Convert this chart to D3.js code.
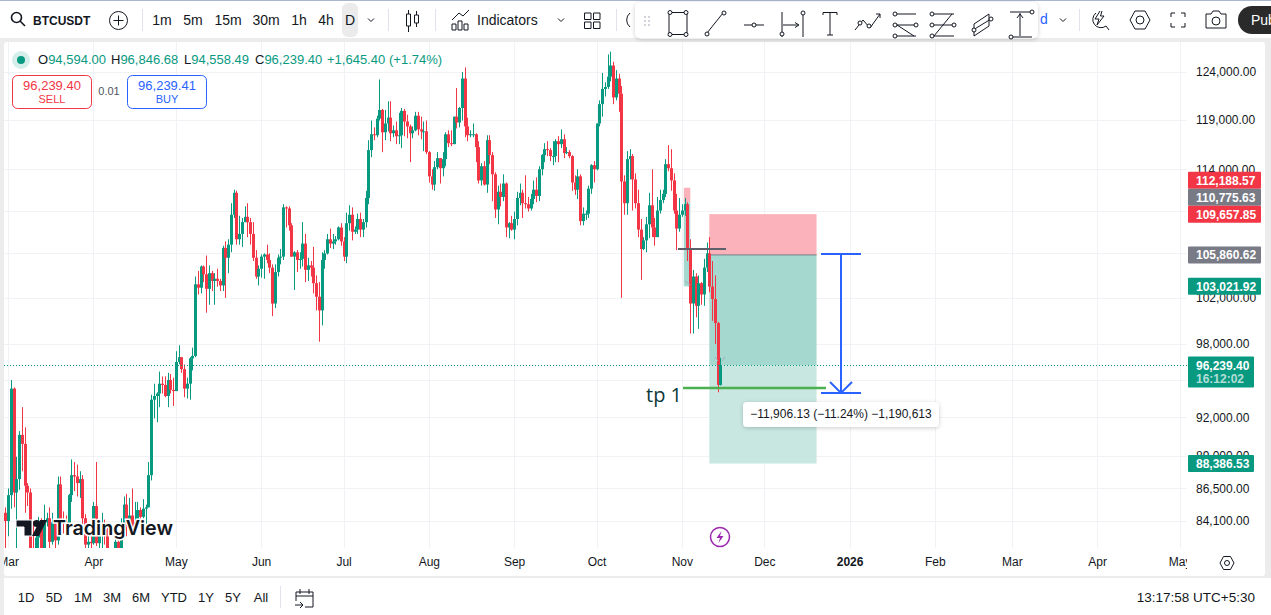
<!DOCTYPE html>
<html>
<head>
<meta charset="utf-8">
<script src="https://cdnjs.cloudflare.com/ajax/libs/d3/7.8.5/d3.min.js"></script>
<style>
    html, body { margin: 0; padding: 0; background: #fff; overflow: hidden; }
    svg { display: block; }
    text { font-family: "Liberation Sans", Arial, sans-serif; }
    .axis .domain, .axis .tick line { display: none; }
    .axis text { fill: #131722; font-size: 12px; font-family: "Liberation Sans", Arial, sans-serif; }
    .icon { fill: none; stroke: #131722; stroke-width: 1; }
</style>
</head>
<body>
<div id="chart"></div>
<script>
// Daily BTCUSDT candles from 28 Feb to 15 Nov 2025, one row per month, in thousands of USD
const firstDay = "2025-02-28";
const opens = [84.7,
    84.1,86.0,94.3,86.2,87.2,90.6,89.9,86.7,86.2,80.7,78.5,82.9,83.6,81.1,84.0,84.3,82.6,84.0,82.7,86.8,84.2,84.0,83.8,86.0,87.5,87.4,86.9,87.2,84.3,82.4,82.6,
    82.5,85.2,82.5,83.1,83.8,83.5,78.4,79.1,76.3,82.6,79.6,83.4,85.3,83.7,84.5,83.6,84.0,84.9,84.4,85.0,85.1,87.5,93.4,93.7,93.9,94.7,94.6,93.7,95.0,94.2,
    94.1,96.5,96.9,95.9,94.3,94.7,96.8,97.0,103.2,102.9,104.8,104.1,102.8,104.2,103.5,103.7,103.5,103.1,106.5,105.6,106.8,109.6,111.7,107.3,107.8,108.9,109.4,108.9,107.8,105.6,103.9,
    104.6,105.7,105.9,105.4,104.7,101.5,104.3,105.6,105.7,110.3,110.2,108.6,105.7,106.1,105.4,105.5,106.9,104.5,104.9,104.7,103.3,102.1,100.9,105.4,106.0,107.3,106.9,107.1,107.3,108.4,
    107.1,105.7,108.8,109.6,108.0,108.2,109.2,108.2,108.9,111.2,115.9,117.5,117.4,119.1,120.0,117.7,118.6,119.2,117.6,117.9,117.3,117.4,119.9,118.8,118.3,117.6,117.9,119.4,118.0,117.8,117.8,
    115.7,113.3,112.5,114.2,115.1,114.1,115.0,117.5,116.6,116.5,119.3,118.7,120.2,123.3,118.3,117.4,117.5,117.5,116.2,112.9,114.3,112.5,116.9,115.4,113.5,110.1,111.8,111.3,112.6,108.4,108.8,
    108.2,109.2,111.2,111.7,110.7,110.6,110.2,111.1,112.0,111.4,114.0,115.4,116.0,115.9,115.3,115.3,116.8,116.5,117.0,115.6,115.7,115.3,112.7,112.0,113.3,109.0,109.7,109.7,112.1,114.4,
    114.0,118.6,120.6,122.2,122.4,123.5,124.7,121.3,123.3,121.7,112.8,110.7,115.0,115.3,113.0,110.7,108.2,106.4,107.2,108.7,110.5,108.4,107.5,110.0,111.0,111.6,114.5,114.1,112.9,110.0,108.3,
    109.6,110.0,110.6,106.5,101.5,103.9,101.3,103.3,102.3,104.7,106.0,103.0,101.9,99.8,94.594];
const highs = [85.1,
    86.5,95.0,94.4,88.9,90.9,92.8,91.2,86.9,86.5,84.1,83.6,84.4,84.3,85.3,84.7,85.1,84.7,84.1,87.4,87.4,84.8,84.5,86.1,88.7,88.5,88.3,87.8,87.5,84.6,83.5,83.9,
    85.5,88.5,83.9,84.7,84.2,83.8,81.2,80.8,83.5,82.7,84.3,85.9,86.1,85.8,86.5,85.5,85.5,85.1,85.7,85.3,88.5,93.8,94.7,94.0,95.7,95.3,95.3,95.6,95.5,95.2,
    97.4,97.9,96.9,96.3,95.2,96.9,97.7,103.9,104.4,104.9,104.9,105.8,104.9,104.4,104.2,104.6,103.7,106.7,107.1,107.3,110.7,112.0,111.9,109.5,109.3,110.4,110.7,109.3,108.9,106.3,104.9,
    105.9,106.0,106.8,106.0,105.0,105.0,105.9,106.4,110.6,110.4,110.4,108.8,106.2,106.3,106.1,108.9,107.8,105.6,105.3,106.6,104.0,103.4,106.1,106.3,107.8,108.3,107.8,107.6,108.5,108.8,
    107.5,109.8,110.5,110.3,108.5,109.7,109.8,109.2,111.9,116.9,118.9,118.2,119.4,123.2,120.1,120.0,120.9,120.9,118.4,118.8,119.7,120.2,120.1,119.5,118.5,118.3,119.8,119.8,119.3,118.8,118.9,
    115.8,114.0,114.8,115.7,115.1,115.7,117.7,117.9,117.9,119.3,122.3,120.3,124.0,124.5,119.2,117.9,118.6,117.6,116.8,114.6,114.8,117.4,117.4,115.7,113.7,112.4,112.6,113.5,112.7,108.9,109.5,
    109.9,111.8,112.6,112.0,113.4,111.3,111.6,112.9,113.2,114.3,115.5,116.6,116.8,116.1,116.8,117.0,117.3,118.0,117.5,116.2,115.9,115.4,113.4,114.0,113.5,110.3,110.0,112.4,114.5,114.8,
    118.6,121.0,123.9,122.9,125.9,126.2,125.1,124.2,123.8,122.5,113.4,115.8,116.0,115.5,113.6,112.0,109.2,107.5,109.4,111.7,114.0,109.3,111.3,112.0,112.0,115.0,116.4,116.0,113.6,111.6,111.2,
    110.6,111.2,110.8,107.3,104.5,104.2,104.0,103.4,105.5,107.0,107.5,105.3,104.0,99.9,96.847];
const lows = [78.2,
    83.0,85.0,85.1,81.5,86.4,87.8,84.7,85.2,80.0,77.5,76.6,80.6,79.9,80.8,83.7,81.9,82.4,81.1,82.4,83.6,83.2,83.6,83.3,85.5,86.3,85.9,85.8,83.6,81.6,81.3,81.3,
    82.4,82.3,81.1,81.7,82.4,77.2,74.5,76.2,74.6,78.3,79.0,82.8,83.0,83.6,83.6,83.1,83.7,84.1,84.3,83.9,85.1,87.1,91.9,91.6,92.8,93.9,93.6,92.8,93.9,92.9,
    94.1,96.3,95.6,93.6,93.5,93.4,95.8,96.9,102.3,102.4,103.4,100.7,101.4,102.6,101.4,103.0,102.6,102.6,102.0,104.2,106.1,109.3,106.8,106.8,106.6,108.9,107.5,106.8,105.3,103.7,103.1,
    103.8,103.7,105.1,104.2,100.4,101.1,103.9,105.0,105.4,108.4,108.1,105.7,102.7,104.3,104.6,104.8,103.4,103.5,103.9,102.4,100.9,98.2,99.6,104.6,105.9,106.5,106.4,106.8,107.2,106.7,
    105.3,105.1,108.1,107.2,107.8,107.8,107.5,107.5,108.4,110.6,115.2,116.9,117.2,118.9,115.7,116.9,117.8,116.8,117.2,116.5,116.5,116.1,117.3,117.1,114.7,117.1,117.8,117.4,117.0,115.8,115.5,
    112.7,112.0,111.9,114.0,112.6,113.3,114.3,116.2,116.3,116.5,118.1,118.2,118.9,117.2,116.8,117.2,117.2,114.7,112.6,112.4,112.4,111.7,114.5,110.9,109.3,108.7,110.4,110.9,107.5,107.4,108.1,
    107.3,108.6,110.5,109.3,110.2,109.9,110.0,110.6,110.8,110.9,113.4,114.7,115.3,114.8,114.4,114.7,114.7,116.1,115.1,115.5,115.1,111.9,111.5,111.1,108.6,108.6,109.1,109.3,111.6,112.7,
    113.9,118.3,119.3,121.4,122.2,123.0,120.6,121.0,119.8,102.0,109.6,109.6,113.0,110.0,110.2,107.5,103.6,106.3,106.1,107.4,107.5,106.7,107.5,109.7,110.7,111.3,113.8,111.9,109.7,106.3,108.0,
    109.4,109.5,105.3,98.9,98.9,100.3,99.3,101.4,101.3,104.3,102.5,100.0,98.0,94.0,94.558];
const closes = [84.1,
    86.0,94.3,86.2,87.2,90.6,89.9,86.7,86.2,80.7,78.5,82.9,83.6,81.1,84.0,84.3,82.6,84.0,82.7,86.8,84.2,84.0,83.8,86.0,87.5,87.4,86.9,87.2,84.3,82.4,82.6,82.5,
    85.2,82.5,83.1,83.8,83.5,78.4,79.1,76.3,82.6,79.6,83.4,85.3,83.7,84.5,83.6,84.0,84.9,84.4,85.0,85.1,87.5,93.4,93.7,93.9,94.7,94.6,93.7,95.0,94.2,94.1,
    96.5,96.9,95.9,94.3,94.7,96.8,97.0,103.2,102.9,104.8,104.1,102.8,104.2,103.5,103.7,103.5,103.1,106.5,105.6,106.8,109.6,111.7,107.3,107.8,108.9,109.4,108.9,107.8,105.6,103.9,104.6,
    105.7,105.9,105.4,104.7,101.5,104.3,105.6,105.7,110.3,110.2,108.6,105.7,106.1,105.4,105.5,106.9,104.5,104.9,104.7,103.3,102.1,100.9,105.4,106.0,107.3,106.9,107.1,107.3,108.4,107.1,
    105.7,108.8,109.6,108.0,108.2,109.2,108.2,108.9,111.2,115.9,117.5,117.4,119.1,120.0,117.7,118.6,119.2,117.6,117.9,117.3,117.4,119.9,118.8,118.3,117.6,117.9,119.4,118.0,117.8,117.8,115.7,
    113.3,112.5,114.2,115.1,114.1,115.0,117.5,116.6,116.5,119.3,118.7,120.2,123.3,118.3,117.4,117.5,117.5,116.2,112.9,114.3,112.5,116.9,115.4,113.5,110.1,111.8,111.3,112.6,108.4,108.8,108.2,
    109.2,111.2,111.7,110.7,110.6,110.2,111.1,112.0,111.4,114.0,115.4,116.0,115.9,115.3,115.3,116.8,116.5,117.0,115.6,115.7,115.3,112.7,112.0,113.3,109.0,109.7,109.7,112.1,114.4,114.0,
    118.6,120.6,122.2,122.4,123.5,124.7,121.3,123.3,121.7,112.8,110.7,115.0,115.3,113.0,110.7,108.2,106.4,107.2,108.7,110.5,108.4,107.5,110.0,111.0,111.6,114.5,114.1,112.9,110.0,108.3,109.6,
    110.0,110.6,106.5,101.5,103.9,101.3,103.3,102.3,104.7,106.0,103.0,101.9,99.8,94.6,96.239];

// Axis ticks: every price has a grid line, the labelled ones are those not hidden by a tag
const gridPrices = [124000, 119000, 114000, 110000, 106000, 102000, 98000, 95000, 92000, 89000, 86500, 84100];
const labelledPrices = [124000, 119000, 114000, 102000, 98000, 92000, 89000, 86500, 84100];
const monthTicks = ["2025-03-01", "2025-04-01", "2025-05-01", "2025-06-01", "2025-07-01", "2025-08-01", "2025-09-01",
    "2025-10-01", "2025-11-01", "2025-12-01", "2026-01-01", "2026-02-01", "2026-03-01", "2026-04-01", "2026-05-01"];

// Price tags on the right axis
const tagPrices = [112188.57, 110775.63, 109657.85, 105860.62, 103021.92, 88386.53];
const tagKinds = ["red", "grey", "red", "grey", "green", "green"];
const lastPrice = 96239.40;
const countdown = "16:12:02";

// Position tool levels
const entryPrice = 105860.62, stopPrice = 109657.85, targetPrice = 88386.53;
const smallStop = 112188.57, smallEntry = 110775.63, smallTarget = 103021.92;
const entryDay = "2025-11-11", toolEnd = "2025-12-20";
const smallDayStart = "2025-11-01", smallDayEnd = "2025-11-03";
const tpPrice = 94350, levelPrice = 106400;
const measureTop = 105950, measureBottom = 93950;

// Toolbars
const intervals = ["1m", "5m", "15m", "30m", "1h", "4h", "D"];
const intervalX = [162, 193, 228, 266, 299, 326, 350];
const ranges = ["1D", "5D", "1M", "3M", "6M", "YTD", "1Y", "5Y", "All"];
const rangeX = [26, 54, 83, 112, 141, 174, 206, 233, 261];

const colors = { green: "#089981", red: "#f23645", grey: "#787b86", blue: "#2962ff", ink: "#131722", grid: "#f1f2f5" };
const tagColor = { red: colors.red, grey: colors.grey, green: colors.green };

const width = 1271, height = 615;
const svg = d3.select("#chart").append("svg").attr("width", width).attr("height", height);

const defs = svg.append("defs");
defs.append("clipPath").attr("id", "pane").append("rect").attr("x", 4).attr("y", 42).attr("width", 1183).attr("height", 506);
defs.append("clipPath").attr("id", "timeClip").append("rect").attr("x", 4).attr("y", 548).attr("width", 1183).attr("height", 28);
defs.append("clipPath").attr("id", "pillClip").append("rect").attr("x", 1230).attr("y", 0).attr("width", 41).attr("height", 40);
const shadow = defs.append("filter").attr("id", "shadow").attr("x", "-10%").attr("y", "-30%").attr("width", "120%").attr("height", "170%");
shadow.append("feDropShadow").attr("dx", 0).attr("dy", 1).attr("stdDeviation", 2).attr("flood-color", "#000").attr("flood-opacity", 0.2);

const day = d3.utcParse("%Y-%m-%d");
const x = d3.scaleUtc().domain([day("2025-03-01"), day("2026-05-01")]).range([8.05, 1179.55]);
const y = d3.scaleLog().domain([124000, 84100]).range([72, 521]);

const candles = opens.map((o, i) => ({
    date: d3.utcDay.offset(day(firstDay), i),
    open: o * 1000, high: highs[i] * 1000, low: lows[i] * 1000, close: closes[i] * 1000
}));

// Page frame
svg.append("rect").attr("width", width).attr("height", height).attr("fill", "#ececec");
svg.append("rect").attr("width", width).attr("height", 38).attr("fill", "#fff");
svg.append("rect").attr("width", width).attr("height", 1).attr("fill", "#aab6d0");
svg.append("rect").attr("x", 4).attr("y", 42).attr("width", 1261).attr("height", 534).attr("rx", 3).attr("fill", "#fff");
svg.append("rect").attr("x", 4).attr("y", 578).attr("width", 1267).attr("height", 37).attr("fill", "#fff");

// Grid
const plot = svg.append("g").attr("clip-path", "url(#pane)");
plot.selectAll(".hgrid").data(gridPrices).enter().append("line")
    .attr("x1", 4).attr("x2", 1187)
    .attr("y1", d => Math.round(y(d)) + 0.5).attr("y2", d => Math.round(y(d)) + 0.5)
    .attr("stroke", colors.grid);
plot.selectAll(".vgrid").data(monthTicks).enter().append("line")
    .attr("x1", d => Math.round(x(day(d))) + 0.5).attr("x2", d => Math.round(x(day(d))) + 0.5)
    .attr("y1", 42).attr("y2", 548)
    .attr("stroke", colors.grid);

// Position tools, under the candles
function zone(x0, x1, p0, p1, fill) {
    plot.append("rect")
        .attr("x", x0).attr("width", x1 - x0)
        .attr("y", y(p0)).attr("height", y(p1) - y(p0))
        .attr("fill", fill);
}
const bigLeft = x(day(entryDay)), bigRight = x(day(toolEnd));
zone(bigLeft, bigRight, stopPrice, entryPrice, "#fcb2ba");
zone(bigLeft, bigRight, entryPrice, lastPrice, "#a5d8cf");
zone(bigLeft, bigRight, lastPrice, targetPrice, "#c9e7e1");
plot.append("line").attr("x1", bigLeft).attr("x2", bigRight).attr("y1", y(entryPrice)).attr("y2", y(entryPrice))
    .attr("stroke", "#787b86").attr("stroke-width", 1);

const smallLeft = x(day(smallDayStart)) + 2, smallRight = x(day(smallDayEnd)) + 3;
zone(smallLeft, smallRight, smallStop, smallEntry, "#fcb2ba");
zone(smallLeft, smallRight, smallEntry, smallTarget, "#a5d8cf");

// Candles
const candle = plot.selectAll(".candle").data(candles).enter().append("g").attr("class", "candle")
    .attr("fill", d => d.close >= d.open ? colors.green : colors.red);
candle.append("rect")
    .attr("x", d => Math.round(x(d.date))).attr("width", 1)
    .attr("y", d => y(d.high)).attr("height", d => y(d.low) - y(d.high));
candle.append("rect")
    .attr("x", d => Math.round(x(d.date)) - 1).attr("width", 3)
    .attr("y", d => y(Math.max(d.open, d.close)))
    .attr("height", d => Math.max(1, Math.abs(y(d.open) - y(d.close))));

// Last price line
plot.append("line").attr("x1", 4).attr("x2", 1187).attr("y1", Math.round(y(lastPrice)) + 0.5).attr("y2", Math.round(y(lastPrice)) + 0.5)
    .attr("stroke", colors.green).attr("stroke-dasharray", "1,2");

// Level line and target line with its note
plot.append("line").attr("x1", 678).attr("x2", 726).attr("y1", y(levelPrice)).attr("y2", y(levelPrice))
    .attr("stroke", "#5d606b").attr("stroke-width", 2);
plot.append("line").attr("x1", 683).attr("x2", 826).attr("y1", y(tpPrice)).attr("y2", y(tpPrice))
    .attr("stroke", "#4caf50").attr("stroke-width", 2.5);
svg.append("text").attr("x", 646).attr("y", 402).attr("font-size", 20).attr("fill", "#0c3a3a")
    .style("font-family", "'Open Sans', sans-serif").text("tp 1");

// Small drawing handles next to the last candles
[[715, 357, 718, 361], [725, 357, 722, 361], [685, 281, 690, 285]].forEach(s => {
    plot.append("line").attr("x1", s[0]).attr("y1", s[1]).attr("x2", s[2]).attr("y2", s[3]).attr("stroke", "#a9acb5");
});

// Measure arrow
const measureX = 841, yTop = y(measureTop), yBottom = y(measureBottom);
const blue = svg.append("g").attr("fill", "none").attr("stroke", colors.blue).attr("stroke-width", 2);
blue.append("line").attr("x1", measureX - 20).attr("x2", measureX + 20).attr("y1", yTop).attr("y2", yTop);
blue.append("line").attr("x1", measureX - 20).attr("x2", measureX + 20).attr("y1", yBottom).attr("y2", yBottom);
blue.append("line").attr("x1", measureX).attr("x2", measureX).attr("y1", yTop).attr("y2", yBottom);
blue.append("path").attr("d", d3.line()([[measureX - 11, yBottom - 11], [measureX, yBottom], [measureX + 11, yBottom - 11]]));
svg.append("rect").attr("x", 743).attr("y", 402).attr("width", 196).attr("height", 25).attr("rx", 4)
    .attr("fill", "#fff").attr("filter", "url(#shadow)");
svg.append("text").attr("x", 841).attr("y", 418).attr("text-anchor", "middle").attr("font-size", 12).attr("fill", colors.ink)
    .text("−11,906.13 (−11.24%) −1,190,613");

// TradingView logo
const logo = svg.append("g").attr("fill", "#131722");
logo.append("path").attr("d", "M16 520H32V536H24V527H16Z").attr("stroke", "#fff").attr("stroke-width", 1);
logo.append("circle").attr("cx", 36.5).attr("cy", 523.5).attr("r", 3.5);
logo.append("path").attr("d", "M40 520H47L39 536H32Z");
svg.append("text").attr("x", 53).attr("y", 535).attr("font-size", 20).attr("font-weight", 600)
    .attr("textLength", 120).attr("lengthAdjust", "spacingAndGlyphs")
    .attr("fill", "#131722").attr("stroke", "#fff").attr("stroke-width", 3).attr("paint-order", "stroke")
    .style("font-family", "Inter, sans-serif").text("TradingView");

// Lightning marker
const bolt = svg.append("g").attr("transform", "translate(720,537)");
bolt.append("circle").attr("r", 9.5).attr("fill", "#fff").attr("stroke", "#9c27b0").attr("stroke-width", 1.5);
bolt.append("path").attr("d", "M1.5-6L-3.5 1H0L-1.5 6L3.5-1H0Z").attr("fill", "#9c27b0");

// Axes
const priceAxis = d3.axisRight(y).tickValues(labelledPrices).tickSize(0).tickPadding(0).tickFormat(d3.format(",.2f"));
svg.append("g").attr("class", "axis").attr("transform", "translate(1196,0)").call(priceAxis);

const timeAxis = d3.axisBottom(x).tickValues(monthTicks.map(day)).tickSize(0).tickPadding(0)
    .tickFormat(d => d.getUTCMonth() === 0 ? d3.utcFormat("%Y")(d) : d3.utcFormat("%b")(d));
svg.append("g").attr("clip-path", "url(#timeClip)").append("g").attr("class", "axis")
    .attr("transform", "translate(0,557)").call(timeAxis)
    .selectAll("text").attr("font-weight", d => d.getUTCMonth() === 0 ? 700 : 400);

// Price tags, pushed upward when two would overlap
const tagHeight = 17;
const tagY = tagPrices.map(p => y(p));
for (let i = tagY.length - 2; i >= 0; i--) {
    if (tagY[i] > tagY[i + 1] - tagHeight && tagY[i + 1] - tagY[i] < tagHeight) tagY[i] = tagY[i + 1] - tagHeight;
}
tagPrices.forEach((p, i) => {
    const w = tagKinds[i] === "green" && p < lastPrice ? 66 : 73;
    svg.append("rect").attr("x", 1188).attr("y", tagY[i] - tagHeight / 2).attr("width", w).attr("height", tagHeight).attr("rx", 1)
        .attr("fill", tagColor[tagKinds[i]]);
    svg.append("text").attr("x", 1196).attr("y", tagY[i] + 4.5).attr("font-size", 12).attr("font-weight", 700).attr("fill", "#fff")
        .text(d3.format(",.2f")(p));
});
const lastY = y(lastPrice);
svg.append("rect").attr("x", 1188).attr("y", lastY - 8.5).attr("width", 66).attr("height", 31).attr("rx", 1).attr("fill", colors.green);
svg.append("text").attr("x", 1196).attr("y", lastY + 4.5).attr("font-size", 12).attr("font-weight", 700).attr("fill", "#fff")
    .text(d3.format(",.2f")(lastPrice));
svg.append("text").attr("x", 1196).attr("y", lastY + 17.5).attr("font-size", 12).attr("font-weight", 700).attr("fill", "#fff").attr("fill-opacity", 0.7)
    .text(countdown);

// Legend row
svg.append("circle").attr("cx", 21).attr("cy", 60).attr("r", 9).attr("fill", "#d5eeea");
svg.append("circle").attr("cx", 21).attr("cy", 60).attr("r", 4).attr("fill", colors.green);
const fmt = d3.format(",.2f");
[[38, "O", 94594.00], [111, "H", 96846.68], [184, "L", 94558.49], [255, "C", 96239.40]].forEach(d => {
    const t = svg.append("text").attr("x", d[0]).attr("y", 64).attr("font-size", 13).attr("fill", colors.ink).text(d[1]);
    t.append("tspan").attr("fill", colors.green).text(fmt(d[2]));
});
svg.append("text").attr("x", 327).attr("y", 64).attr("font-size", 13).attr("fill", colors.green).text("+1,645.40");
svg.append("text").attr("x", 389).attr("y", 64).attr("font-size", 13).attr("fill", colors.green).text("(+1.74%)");

function tradeBox(x0, stroke, price, label) {
    svg.append("rect").attr("x", x0 + 0.5).attr("y", 75.5).attr("width", 79).attr("height", 33).attr("rx", 5)
        .attr("fill", "#fff").attr("stroke", stroke);
    svg.append("text").attr("x", x0 + 40).attr("y", 89.5).attr("text-anchor", "middle").attr("font-size", 13).attr("fill", stroke).text(price);
    svg.append("text").attr("x", x0 + 40).attr("y", 103).attr("text-anchor", "middle").attr("font-size", 11).attr("fill", stroke).text(label);
}
tradeBox(12, colors.red, "96,239.40", "SELL");
tradeBox(127, colors.blue, "96,239.41", "BUY");
svg.append("text").attr("x", 109).attr("y", 95).attr("text-anchor", "middle").attr("font-size", 11).attr("fill", "#50535e").text("0.01");

// Floating drawing toolbar background, under the icon group
svg.append("rect").attr("x", 635).attr("y", 2).attr("width", 403).attr("height", 36.5).attr("rx", 6)
    .attr("fill", "#fff").attr("filter", "url(#shadow)");
d3.cross([0, 4], [0, 4, 8]).forEach(p => {
    svg.append("rect").attr("x", 644 + p[0]).attr("y", 16 + p[1]).attr("width", 2).attr("height", 2).attr("fill", "#d1d4dc");
});

// Top toolbar
const icons = svg.append("g");
function icon(d, tx, ty) {
    return icons.append("path").attr("class", "icon").attr("d", d).attr("transform", "translate(" + tx + "," + ty + ")");
}
function sep(xp, y0, y1) {
    icons.append("line").attr("x1", xp + 0.5).attr("x2", xp + 0.5).attr("y1", y0).attr("y2", y1).attr("stroke", "#e0e3eb");
}
function chevron(tx, ty) { icon("M-3-1.5L0 1.5L3-1.5", tx, ty); }

icon("M5.5 5.5m-5 0a5 5 0 1 0 10 0a5 5 0 1 0-10 0M9 9L14 14", 11, 12).style("stroke-width", 1.6);
svg.append("text").attr("x", 33).attr("y", 24.5).attr("font-size", 12).attr("font-weight", 700).attr("fill", colors.ink).text("BTCUSDT");
icons.append("circle").attr("class", "icon").attr("cx", 118.5).attr("cy", 20.5).attr("r", 9);
icon("M-5 0H5M0-5V5", 118.5, 20.5);
sep(142, 9, 31);

svg.append("rect").attr("x", 342).attr("y", 3).attr("width", 16).attr("height", 34).attr("rx", 6).attr("fill", "#ebebeb");
svg.selectAll(".interval").data(intervals).enter().append("text")
    .attr("x", (d, i) => intervalX[i]).attr("y", 25).attr("text-anchor", "middle").attr("font-size", 14)
    .attr("fill", colors.ink).text(d => d);
chevron(371, 20);
sep(388, 9, 31);
icon("M0.5 6H4.5V18H0.5ZM2.5 2V6M2.5 18V24", 406, 8);
icon("M0.5 7H4.5V15H0.5ZM2.5 3V7M2.5 15V19", 414, 8);
sep(435, 9, 31);
icon("M1 13L8 6L12 9L18 3M1 23V17H5V23ZM7 23V14H11V23ZM13 23V17H17V23Z", 451, 7);
svg.append("text").attr("x", 477).attr("y", 25).attr("font-size", 14).attr("fill", colors.ink).text("Indicators");
chevron(561, 20);
["M0 0H6.5V6.5H0Z", "M9 0H15.5V6.5H9Z", "M0 9H6.5V15.5H0Z", "M9 9H15.5V15.5H9Z"].forEach(d => icon(d, 584.5, 13).attr("stroke-linejoin", "round"));
sep(616, 9, 31);
icon("M8-7A9 9 0 0 0 8 7", 622, 20);

// Drawing tool icons
function handle(hx, hy) { icons.append("circle").attr("cx", hx).attr("cy", hy).attr("r", 2).attr("fill", "#fff").attr("stroke", colors.ink); }
const toolPaths = [
    "M670 12.5H686M670 34.5H686M669 13V34M687 13V34",
    "M707 33L723 13",
    "M744 25H764",
    "M782 12V37M803 12V37M783 25H798M795 22.5L799 25L795 27.5",
    "M823 12.5H837M830 12.5V35M827 35H833M823 12.5V15M837 12.5V15",
    "M855 30L863 20L870 28L880 14M876 14H880V18",
    "M895 14H916M895 25H916M895 36H916M897 25L914 36",
    "M932 14H954M932 25H954M932 36H954M934 36L952 14",
    "M974 24L989 14V26L974 36ZM973 30L991 19",
    "M1010 12H1032M1010 37H1032M1020 13V36M1017 18L1020 14L1023 18"
];
toolPaths.forEach(d => { icons.append("path").attr("class", "icon").attr("d", d); });
[[670, 12.5], [686, 12.5], [670, 34.5], [686, 34.5], [707, 34], [724, 13], [754, 25], [782, 34], [803, 13],
    [869, 26], [860, 23], [895, 14], [916, 25], [895, 25], [895, 36], [932, 14], [954, 25], [932, 25], [932, 36],
    [974, 30], [991, 19], [1032, 12], [1011, 37]].forEach(h => handle(h[0], h[1]));

// Right side of the top toolbar
svg.append("text").attr("x", 1040).attr("y", 24).attr("font-size", 14).attr("fill", "#2962ff").text("d");
chevron(1063, 20);
sep(1079, 9, 31);
icon("M7 3L2 11H6L4 17L11 8H7.5L9 3M3 5A8 8 0 0 0 13 18M13 18L16 22", 1093, 8);
icon("M-10 0L-5-9H5L10 0L5 9H-5ZM4 0A4 4 0 1 1-4 0A4 4 0 1 1 4 0", 1140, 20);
icon("M-7-3V-7H-3M3-7H7V-3M7 3V7H3M-3 7H-7V3", 1178, 20);
icon("M-10-6H-5L-3-9H3L5-6H10V8H-10ZM4 1A4 4 0 1 1-4 1A4 4 0 1 1 4 1", 1216, 20);
const pill = svg.append("g").attr("clip-path", "url(#pillClip)");
pill.append("rect").attr("x", 1238).attr("y", 6).attr("width", 70).attr("height", 28).attr("rx", 14).attr("fill", "#2a2a2a");
pill.append("text").attr("x", 1251).attr("y", 25).attr("font-size", 14).attr("fill", "#fff").text("Publish");

// Settings button on the axis corner
icon("M-7 0L-3.5-6.5H3.5L7 0L3.5 6.5H-3.5ZM2.5 0A2.5 2.5 0 1 1-2.5 0A2.5 2.5 0 1 1 2.5 0", 1227, 563);

// Bottom toolbar
svg.selectAll(".range").data(ranges).enter().append("text")
    .attr("x", (d, i) => rangeX[i]).attr("y", 602).attr("text-anchor", "middle").attr("font-size", 13)
    .attr("fill", colors.ink).text(d => d);
sep(280, 586, 608);
icon("M1 4H18V19H10M1 4V13M1 8H18M5 1V6M14 1V6M0 17H8M5 14L8 17L5 20", 295, 588);
svg.append("text").attr("x", 1255).attr("y", 602).attr("text-anchor", "end").attr("font-size", 13.5)
    .attr("fill", colors.ink).text("13:17:58 UTC+5:30");
</script>
</body>
</html>
